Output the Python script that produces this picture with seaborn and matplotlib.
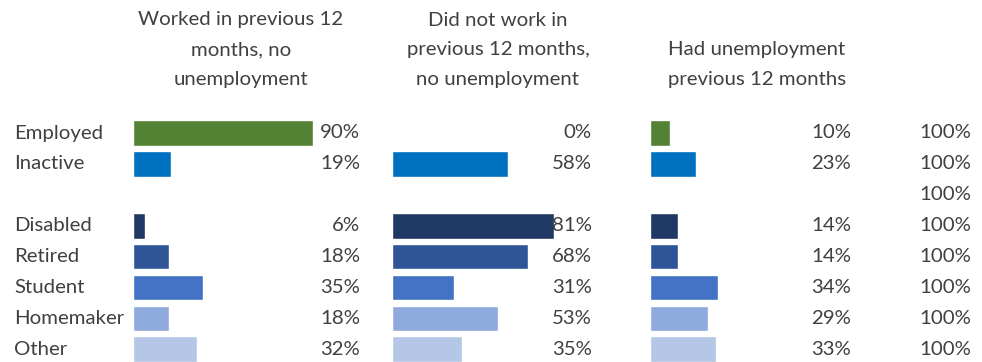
import matplotlib
matplotlib.use("Agg")
import matplotlib.pyplot as plt
import seaborn as sns
import pandas as pd
import numpy as np
from matplotlib.transforms import blended_transform_factory

# ---- data ----
categories = ["Employed", "Inactive", " ", "Disabled", "Retired", "Student", "Homemaker", "Other"]
worked = [90, 19, np.nan, 6, 18, 35, 18, 32]
not_worked = [0, 58, np.nan, 81, 68, 31, 53, 35]
unemployed = [10, 23, np.nan, 14, 14, 34, 29, 33]
totals = [100, 100, 100, 100, 100, 100, 100, 100]
colors = ["#548235", "#0070C0", "#FFFFFF", "#203864", "#2F5597", "#4472C4", "#8FAADC", "#B4C7E7"]
headers = [
    ["Worked in previous 12", "months, no", "unemployment"],
    ["Did not work in", "previous 12 months,", "no unemployment"],
    ["Had unemployment", "previous 12 months"],
]

sns.set_theme(style="white")
plt.rcParams["font.family"] = ["Lato", "DejaVu Sans"]
TXT = "#404040"
FS = 14.7

W, H, DPI = 982, 362, 100
fig = plt.figure(figsize=(W / DPI, H / DPI), dpi=DPI)

# panel pixel extents: (bar start, label right edge)
panels = [(133, 360), (392, 592), (650, 851)]
pitch = 30.9
top_px = 133 - pitch / 2
bot_px = top_px + pitch * len(categories)
series = [worked, not_worked, unemployed]
header_centers = [241, 498, 757]

palette = dict(zip(categories, colors))
axes = []
for i, ((l, r), vals) in enumerate(zip(panels, series)):
    ax = fig.add_axes([l / W, (H - bot_px) / H, (r - l) / W, (bot_px - top_px) / H])
    df = pd.DataFrame({"cat": categories, "val": vals})
    sns.barplot(data=df, x="val", y="cat", hue="cat", palette=palette, order=categories,
                hue_order=categories, orient="h", width=0.83, legend=False, ax=ax,
                saturation=1, errorbar=None)
    ax.set_xlim(0, (r - l) / 2.0)
    ax.set_ylim(len(categories) - 0.5, -0.5)
    ax.set_axis_off()
    tr = blended_transform_factory(ax.transAxes, ax.transData)
    for j, v in enumerate(vals):
        if not np.isnan(v):
            ax.text(1.0, j, f"{v:.0f}%", transform=tr, ha="right", va="center",
                    fontsize=FS, color=TXT)
    axes.append(ax)

# category labels and totals column
ax0 = axes[0]
trf = blended_transform_factory(fig.transFigure, ax0.transData)
for j, c in enumerate(categories):
    ax0.text(14 / W, j, c, transform=trf, ha="left", va="center", fontsize=FS, color=TXT)
    ax0.text(971 / W, j, f"{totals[j]:.0f}%", transform=trf, ha="right", va="center",
             fontsize=FS, color=TXT)

# headers (bottom aligned, 30px line pitch)
line_y = [20, 50, 80]
for cx, lines in zip(header_centers, headers):
    ys = line_y[-len(lines):]
    for y, t in zip(ys, lines):
        fig.text(cx / W, 1 - y / H, t, ha="center", va="center", fontsize=FS, color=TXT)

fig.savefig("out.png", dpi=DPI)
